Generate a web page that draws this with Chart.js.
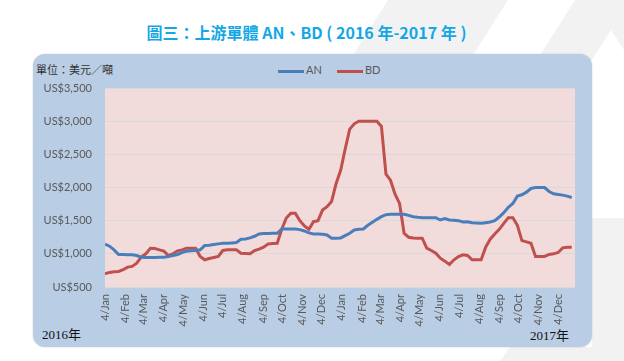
<!DOCTYPE html>
<html>
<head>
<meta charset="utf-8">
<script src="https://cdn.jsdelivr.net/npm/chart.js@4.4.1/dist/chart.umd.min.js"></script>
<style>
  body { margin: 0; width: 624px; height: 361px; background: #fff; position: relative; overflow: hidden; }
  .deco { position: absolute; left: 0; top: 0; width: 624px; height: 361px; background: #f2f2f2; }
  #card { position: absolute; left: 33px; top: 54px; width: 559px; height: 293px; background: #b9cde5;
          border-radius: 12px; box-shadow: 0 0 2px rgba(0,0,0,0.18); }
  #title { position: absolute; left: 0; width: 613px; top: 20px; text-align: center; color: #14a7e6;
           font: bold 16px "Noto Sans CJK TC", sans-serif; }
  #unit { position: absolute; left: 36px; top: 61px; color: #333; font: 11px "Noto Sans CJK TC", serif; }
  .year { position: absolute; color: #111; font: 13px "Liberation Serif", "Noto Sans CJK TC", serif; }
  #legend { position: absolute; top: 63px; left: 278px; font: 11px Lato, sans-serif; color: #595959; }
  #legend span { position: absolute; white-space: nowrap; }
  #legend i { display: inline-block; width: 26px; height: 3px; vertical-align: middle; margin-right: 2px; }
  canvas { position: absolute; left: 0; top: 0; }
</style>
</head>
<body>
<div class="deco" style="clip-path: polygon(388px 0, 508px 0, 470px 60px, 350px 60px)"></div>
<div class="deco" style="clip-path: polygon(575px 0, 624px 0, 624px 50px, 611px 30px, 592px 60px, 537px 60px)"></div>
<div class="deco" style="clip-path: polygon(592px 218px, 624px 218px, 624px 361px, 500px 361px, 510px 347px, 592px 347px)"></div>
<div id="title">圖三：上游單體 AN、BD ( 2016 年-2017 年 )</div>
<div id="card"></div>
<div id="unit">單位：美元／噸</div>
<div id="legend">
  <span style="left:0;top:0"><i style="background:#4a7ebb"></i>AN</span>
  <span style="left:59px;top:0"><i style="background:#c0504d"></i>BD</span>
</div>
<div class="year" style="left:42px;top:324px">2016年</div>
<div class="year" style="left:530px;top:325px">2017年</div>
<canvas id="chart" width="624" height="361"></canvas>
<script>
// weekly prices, first week = 4 Jan 2016
const anPrices = [
  1145, 1115, 1060, 990, 990, 985, 985, 975, 950, 945,
  945, 945, 950, 950, 960, 975, 990, 1020, 1040, 1045,
  1050, 1060, 1125, 1130, 1140, 1150, 1160, 1160, 1165, 1170,
  1220, 1225, 1240, 1265, 1300, 1305, 1305, 1310, 1310, 1375,
  1375, 1375, 1375, 1365, 1345, 1315, 1300, 1300, 1295, 1285,
  1235, 1235, 1240, 1275, 1310, 1360, 1370, 1375, 1430, 1475,
  1520, 1560, 1590, 1595, 1595, 1595, 1595, 1580, 1560, 1550,
  1545, 1545, 1545, 1545, 1510, 1530, 1510, 1505, 1500, 1480,
  1485, 1470, 1465, 1460, 1470, 1480, 1500, 1555, 1620, 1700,
  1760, 1870, 1890, 1930, 1985, 2000, 2000, 2000, 1940, 1905,
  1895, 1885, 1870, 1850
];
const bdPrices = [
  700, 720, 730, 735, 760, 800, 810, 860, 950, 1000,
  1085, 1080, 1060, 1040, 975, 1000, 1045, 1060, 1085, 1085,
  1085, 960, 910, 930, 945, 960, 1050, 1060, 1060, 1060,
  1010, 1005, 1000, 1050, 1070, 1100, 1150, 1155, 1160, 1370,
  1540, 1610, 1610, 1500, 1420, 1370, 1485, 1500, 1660, 1710,
  1790, 2060, 2260, 2580, 2880, 2960, 3000, 3000, 3000, 3000,
  3000, 2920, 2200, 2110, 1900, 1760, 1310, 1250, 1240, 1235,
  1235, 1085, 1050, 1010, 935, 890, 840, 910, 960, 985,
  975, 910, 910, 910, 1100, 1220, 1300, 1370, 1460, 1545,
  1545, 1430, 1200, 1180, 1160, 960, 960, 960, 990, 1000,
  1020, 1090, 1100, 1100
];
const monthNames = ['Jan', 'Feb', 'Mar', 'Apr', 'May', 'Jun', 'Jul', 'Aug', 'Sep', 'Oct', 'Nov', 'Dec'];
const tickYears = [2016, 2017];

// days counted from 4 Jan 2016
const dayMs = 86400000;
const start = Date.UTC(2016, 0, 4);
const monthTicks = [];
const monthLabels = [];
tickYears.forEach(y => {
  monthNames.forEach((m, k) => {
    monthTicks.push((Date.UTC(y, k, 4) - start) / dayMs);
    monthLabels.push('4/' + m);
  });
});

const toPoints = arr => arr.map((v, i) => ({ x: i * 7, y: v }));

// pink plot area
const plotBg = {
  id: 'plotBg',
  beforeDraw(chart) {
    const { ctx, chartArea: a } = chart;
    ctx.save();
    ctx.fillStyle = '#f2dcdb';
    ctx.fillRect(a.left, a.top, a.right - a.left, a.bottom - a.top);
    ctx.restore();
  }
};

const tickFont = { family: 'Lato', size: 11 };

new Chart(document.getElementById('chart'), {
  type: 'line',
  data: {
    datasets: [
      { label: 'AN', data: toPoints(anPrices), borderColor: '#4a7ebb', borderWidth: 3, pointRadius: 0, tension: 0 },
      { label: 'BD', data: toPoints(bdPrices), borderColor: '#c0504d', borderWidth: 3, pointRadius: 0, tension: 0 }
    ]
  },
  options: {
    responsive: false,
    animation: false,
    layout: { padding: { left: 35, right: 49, top: 88, bottom: 0 } },
    plugins: { legend: { display: false }, tooltip: { enabled: false } },
    scales: {
      x: {
        type: 'linear',
        min: 0,
        max: 726,
        afterBuildTicks: scale => { scale.ticks = monthTicks.map(v => ({ value: v })); },
        afterFit: scale => { scale.height = 74; },
        grid: { drawOnChartArea: false, drawTicks: true, tickLength: 4, color: '#d0d0d0' },
        border: { display: false },
        ticks: {
          autoSkip: false,
          minRotation: 90,
          maxRotation: 90,
          color: '#595959',
          font: tickFont,
          callback: (value, index) => monthLabels[index]
        }
      },
      y: {
        min: 500,
        max: 3500,
        afterFit: scale => { scale.width = 70; },
        grid: { color: '#d9d9d9', drawTicks: false },
        border: { display: false },
        ticks: {
          stepSize: 500,
          padding: 13,
          color: '#595959',
          font: tickFont,
          callback: v => 'US$' + v.toLocaleString('en-US')
        }
      }
    }
  },
  plugins: [plotBg]
});
</script>
</body>
</html>
